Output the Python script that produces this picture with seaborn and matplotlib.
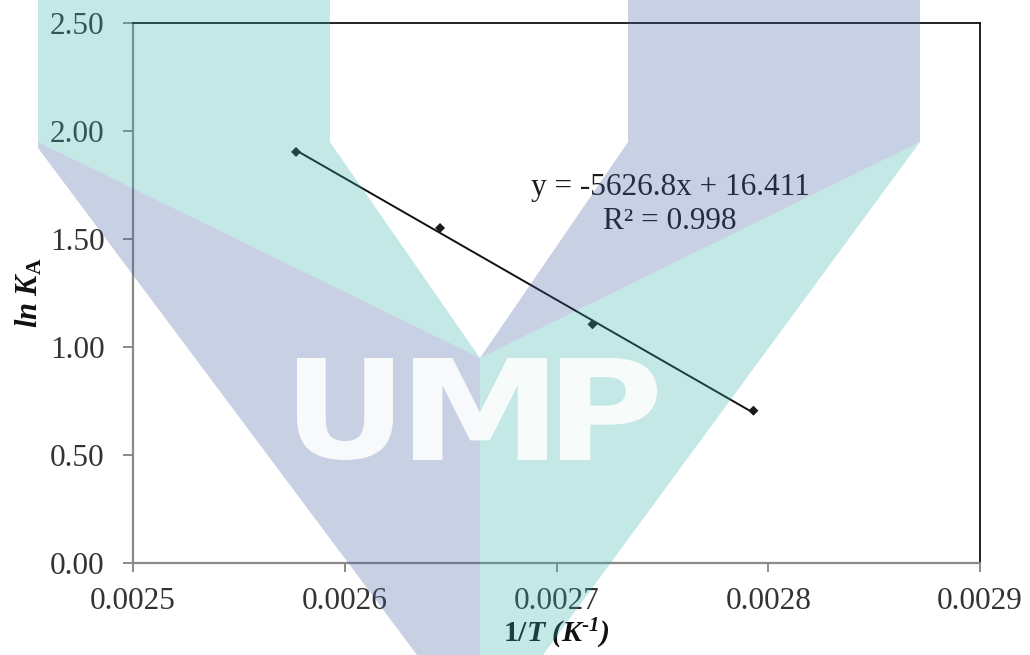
import numpy as np
import matplotlib
matplotlib.use("Agg")
import matplotlib.pyplot as plt
import seaborn as sns
from matplotlib.patches import Polygon, PathPatch
from matplotlib.textpath import TextPath
from matplotlib.font_manager import FontProperties
from matplotlib.transforms import Affine2D

# Van 't Hoff data: reciprocal temperature vs. ln of the adsorption constant
inv_T = [0.002577, 0.002645, 0.002717, 0.002793]
ln_K = [1.903, 1.551, 1.105, 0.705]

# Linear trendline parameters
slope = -5626.8
intercept = 16.411
r_squared = 0.998

x_ticks = [0.0025, 0.0026, 0.0027, 0.0028, 0.0029]
x_tick_labels = ["0.0025", "0.0026", "0.0027", "0.0028", "0.0029"]
y_ticks = [0.0, 0.5, 1.0, 1.5, 2.0, 2.5]
y_tick_labels = ["0.00", "0.50", "1.00", "1.50", "2.00", "2.50"]

sns.set_style("white")
plt.rcParams["font.family"] = ["Liberation Serif", "DejaVu Serif"]
plt.rcParams["mathtext.fontset"] = "custom"
plt.rcParams["mathtext.rm"] = "Liberation Serif"
plt.rcParams["mathtext.it"] = "Liberation Serif:italic"
plt.rcParams["mathtext.bf"] = "Liberation Serif:bold"
plt.rcParams["mathtext.bfit"] = "Liberation Serif:italic:bold"

W, H = 1030, 655
fig = plt.figure(figsize=(W / 100, H / 100), dpi=100)
fig.patch.set_facecolor("white")

left, right, top, bottom = 133, 980, 23, 563
ax = fig.add_axes([left / W, 1 - bottom / H, (right - left) / W, (bottom - top) / H])
ax.set_facecolor("white")

# Trendline over the span of the measurements
line_x = np.array([min(inv_T), max(inv_T)])
line_y = slope * line_x + intercept
sns.lineplot(x=line_x, y=line_y, color="#111111", linewidth=1.4, ax=ax, zorder=2)

# Measured points
sns.scatterplot(x=inv_T, y=ln_K, marker="D", s=26, color="#1a1a1a",
                edgecolor="none", ax=ax, zorder=3)

ax.set_xlim(x_ticks[0], x_ticks[-1])
ax.set_ylim(y_ticks[0], y_ticks[-1])
ax.set_xticks(x_ticks)
ax.set_xticklabels(x_tick_labels)
ax.set_yticks(y_ticks)
ax.set_yticklabels(y_tick_labels)

ax.tick_params(axis="y", direction="out", length=7, width=1.4, color="#8a8a8a",
               pad=13.5, labelsize=22.5, labelcolor="#333333", left=True)
ax.tick_params(axis="x", direction="out", length=6.5, width=1.4, color="#8a8a8a",
               pad=11, labelsize=22.5, labelcolor="#333333", bottom=True)

for side in ("left", "bottom"):
    ax.spines[side].set_color("#8a8a8a")
    ax.spines[side].set_linewidth(1.6)
for side in ("top", "right"):
    ax.spines[side].set_color("#111111")
    ax.spines[side].set_linewidth(1.3)

ax.set_xlabel(r"$\mathbf{1/}\mathbfit{T}\ \mathbfit{(K}^{\mathbfit{\text{-}1}}\mathbfit{)}$",
              fontsize=21.5, color="#111111")
ax.set_ylabel(r"$\mathbfit{ln}\ \mathbfit{K}_{\mathbf{A}}$", fontsize=22, color="#111111")
ax.xaxis.set_label_coords(0.5, (bottom - 617) / (bottom - top))
ax.yaxis.set_label_coords((44 - left) / (right - left), 0.5)

# Trendline equation label
eq_text = f"y = {slope}x + {intercept}\nR\u00b2 = {r_squared}"
ax.text(0.0027536, 1.66, eq_text, ha="center", va="center", multialignment="center",
        fontsize=22.5, color="#1a1a1a", linespacing=1.22)

# Translucent university logo watermark across the whole figure
ov = fig.add_axes([0, 0, 1, 1], zorder=5)
ov.set_xlim(0, W)
ov.set_ylim(H, 0)
ov.set_axis_off()
ov.patch.set_alpha(0)

teal = "#31AFAB"
purple = "#3F5BA1"
wm_alpha = 0.286
shapes = [
    ([(38, 0), (330, 0), (330, 142), (480, 358), (38, 142)], teal),
    ([(38, 142), (480, 358), (480, 655), (417, 655), (38, 148)], purple),
    ([(628, 0), (920, 0), (920, 142), (480, 358), (628, 142)], purple),
    ([(920, 142), (480, 358), (480, 655), (543, 655)], teal),
]
for pts, col in shapes:
    ov.add_patch(Polygon(pts, closed=True, facecolor=col, edgecolor="none", alpha=wm_alpha))

fp = FontProperties(family="DejaVu Sans", weight="bold")
letter_top, letter_bottom = 358, 460
for ch, x0, x1 in [("U", 297, 393), ("M", 413, 547), ("P", 560, 657)]:
    tp = TextPath((0, 0), ch, size=100, prop=fp)
    ext = tp.get_extents()
    sx = (x1 - x0) / ext.width
    sy = (letter_bottom - letter_top) / ext.height
    tr = Affine2D().translate(-ext.x0, -ext.y0).scale(sx, -sy).translate(x0, letter_bottom)
    ov.add_patch(PathPatch(tr.transform_path(tp), facecolor="white", edgecolor="none", alpha=0.88))

fig.savefig("out.png", dpi=100)
